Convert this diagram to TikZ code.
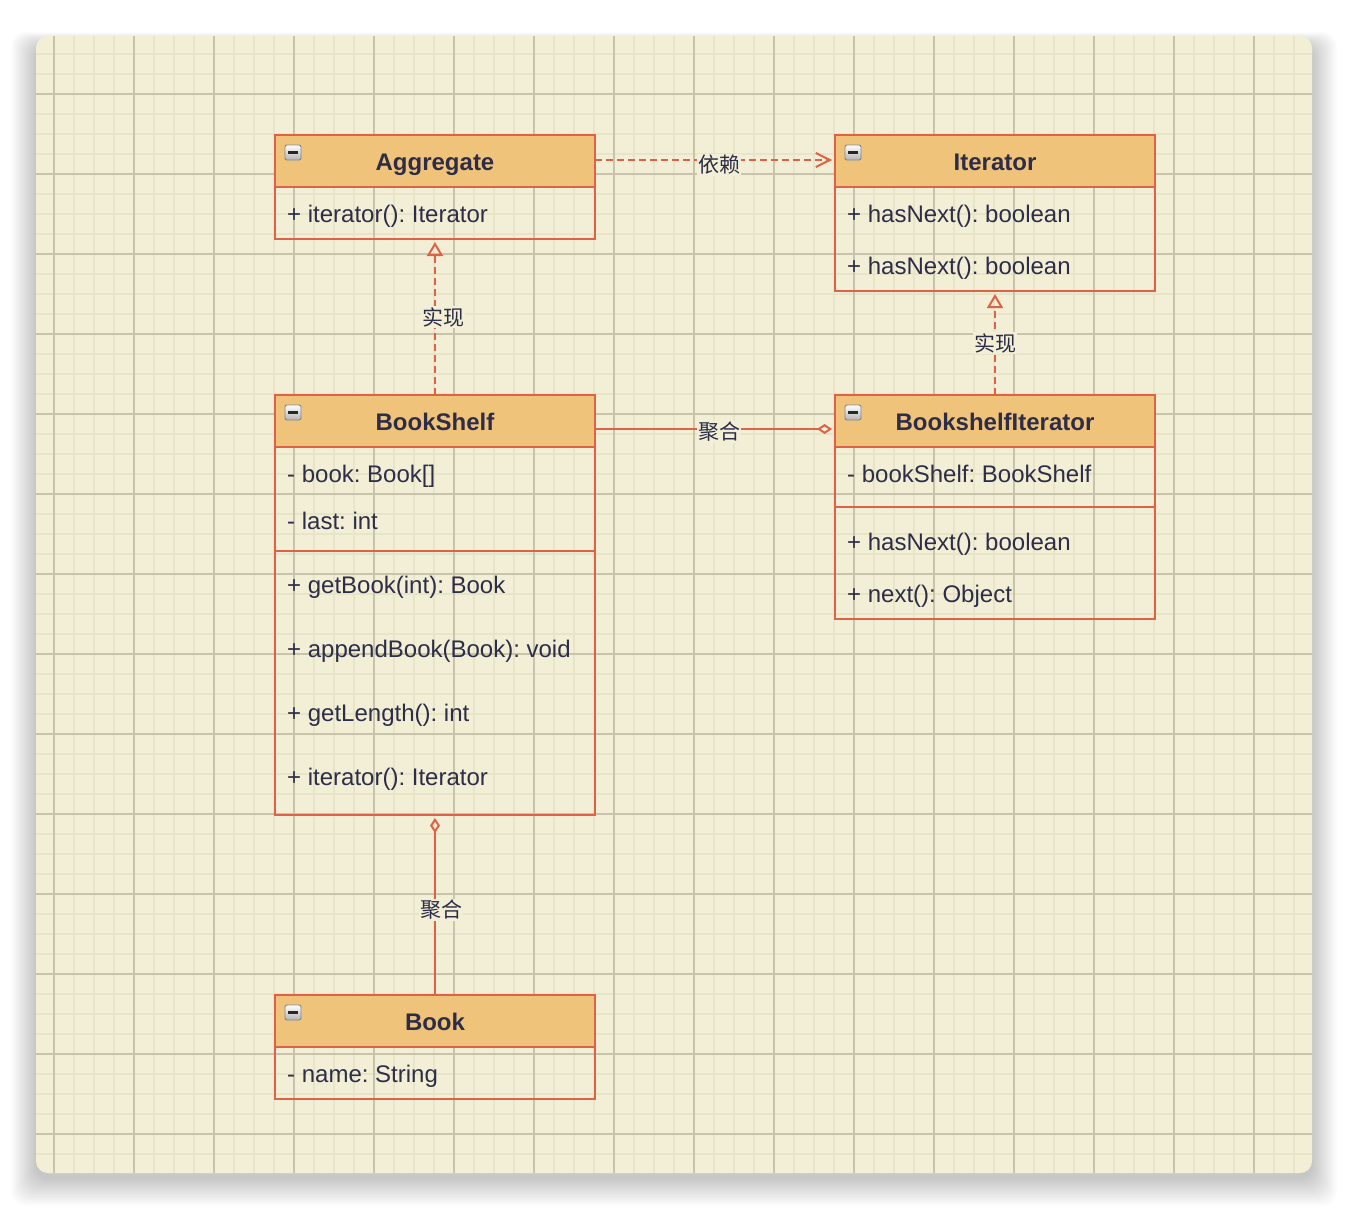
\documentclass[tikz,border=0pt]{standalone}
\usepackage{fontspec}
\setmainfont{Liberation Sans}
\newfontfamily\cjk{Noto Sans CJK SC}
\usetikzlibrary{arrows.meta}
\definecolor{bgc}{HTML}{F2EFD6}
\definecolor{minorc}{HTML}{E8E4C8}
\definecolor{majorc}{HTML}{C8C4AC}
\definecolor{strokec}{HTML}{DE6248}
\definecolor{headc}{HTML}{F0C37B}
\definecolor{txtc}{HTML}{2D2D48}
\definecolor{iconb}{HTML}{7C8896}
\tikzset{
 hd/.style={draw=strokec, line width=2pt, fill=headc, minimum width=320pt, minimum height=52pt, inner sep=0pt, outer sep=0pt},
 bodybox/.style={draw=strokec, line width=2pt, minimum width=320pt, inner sep=0pt, outer sep=0pt, anchor=north},
 ttl/.style={font=\fontsize{24}{28}\selectfont\bfseries, text=txtc, anchor=base, inner sep=0pt},
 row/.style={font=\fontsize{24}{28}\selectfont, text=txtc, anchor=base west, inner sep=0pt},
 lbl/.style={font=\cjk\fontsize{21}{24}\selectfont, text=txtc, fill=bgc, inner sep=1pt},
 conn/.style={draw=strokec, line width=2pt},
 dsh/.style={dash pattern=on 7pt off 4pt},
 minusicon/.pic={
   \shade[top color=white, bottom color=black!30, draw=iconb, line width=0.9pt, rounded corners=2pt] (-8,-7.5) rectangle (8,7.5);
   \fill[black!85] (-5,-1.5) rectangle (5,1.5);
 },
}
\begin{document}
\frenchspacing
\begin{tikzpicture}[x=1pt,y=-1pt]
\useasboundingbox (0,0) rectangle (1348,1210);
% shadow
\foreach \i in {1,...,28}{
  \fill[black, opacity=0.008, rounded corners=14pt] (36-\i*0.9,46-\i*0.5) rectangle (1312+\i*0.9,1178+\i);
}
\fill[bgc, rounded corners=12pt] (36,36) rectangle (1312,1173);
\begin{scope}
\clip[rounded corners=12pt] (36,36) rectangle (1312,1173);
\foreach \x in {54,74,...,1314} \draw[minorc, line width=2pt] (\x,36) -- (\x,1173);
\foreach \y in {54,74,...,1174} \draw[minorc, line width=2pt] (36,\y) -- (1312,\y);
\foreach \x in {54,134,...,1294} \draw[majorc, line width=1.2pt] (\x,36) -- (\x,1173);
\foreach \y in {94,174,...,1174} \draw[majorc, line width=1.2pt] (36,\y) -- (1312,\y);
\end{scope}

% Aggregate
\node[hd] (aggh) at (435,161) {};
\node[bodybox, minimum height=52pt] (aggb) at (aggh.south) {};
\node[ttl] (aggt) at (435,170) {Aggregate};
\node[row] (agg1) at (287,222) {+ iterator(): Iterator};
\pic at (293,152.5) {minusicon};

% Iterator
\node[hd] (ith) at (995,161) {};
\node[bodybox, minimum height=104pt] (itb) at (ith.south) {};
\node[ttl] (itt) at (995,170) {Iterator};
\node[row] (it1) at (847,222) {+ hasNext(): boolean};
\node[row] (it2) at (847,274) {+ hasNext(): boolean};
\pic at (853,152.5) {minusicon};

% BookShelf
\node[hd] (bsh) at (435,421) {};
\node[bodybox, minimum height=104pt] (bsa) at (bsh.south) {};
\node[bodybox, minimum height=264pt] (bsm) at (bsa.south) {};
\node[ttl] (bst) at (435,430) {BookShelf};
\node[row] (bs1) at (287,482) {- book: Book[]};
\node[row] (bs2) at (287,529) {- last: int};
\node[row] (bs3) at (287,593) {+ getBook(int): Book};
\node[row] (bs4) at (287,657) {+ appendBook(Book): void};
\node[row] (bs5) at (287,721) {+ getLength(): int};
\node[row] (bs6) at (287,785) {+ iterator(): Iterator};
\pic at (293,412.5) {minusicon};

% BookshelfIterator
\node[hd] (bih) at (995,421) {};
\node[bodybox, minimum height=60pt] (bia) at (bih.south) {};
\node[bodybox, minimum height=112pt] (bim) at (bia.south) {};
\node[ttl] (bit) at (995,430) {BookshelfIterator};
\node[row] (bi1) at (847,482) {- bookShelf: BookShelf};
\node[row] (bi2) at (847,550) {+ hasNext(): boolean};
\node[row] (bi3) at (847,602) {+ next(): Object};
\pic at (853,412.5) {minusicon};

% Book
\node[hd] (bkh) at (435,1021) {};
\node[bodybox, minimum height=52pt] (bkb) at (bkh.south) {};
\node[ttl] (bkt) at (435,1030) {Book};
\node[row] (bk1) at (287,1082) {- name: String};
\pic at (293,1012.5) {minusicon};

% connectors
\draw[conn, dsh, -{Straight Barb[length=14pt,width=14pt]}, shorten >=3pt]
  ([yshift=1pt]aggh.east) -- node[lbl, xshift=4pt, yshift=-5pt] {依赖} ([yshift=1pt]ith.west);
\draw[conn, dsh, -{Triangle[open,length=14pt,width=16pt]}, shorten >=3pt]
  (bsh.north) -- node[lbl, xshift=8pt] {实现} (aggb.south);
\draw[conn, dsh, -{Triangle[open,length=14pt,width=16pt]}, shorten >=3pt]
  (bih.north) -- node[lbl] {实现} (itb.south);
\draw[conn, -{Diamond[open,length=15pt,width=10pt]}, shorten >=3pt]
  ([yshift=-8pt]bsh.east) -- node[lbl, xshift=4pt, yshift=-3pt] {聚合} ([yshift=-8pt]bih.west);
\draw[conn, -{Diamond[open,length=15pt,width=10pt]}, shorten >=3pt]
  (bkh.north) -- node[lbl, xshift=6pt, yshift=-5pt] {聚合} (bsm.south);
\end{tikzpicture}
\end{document}
